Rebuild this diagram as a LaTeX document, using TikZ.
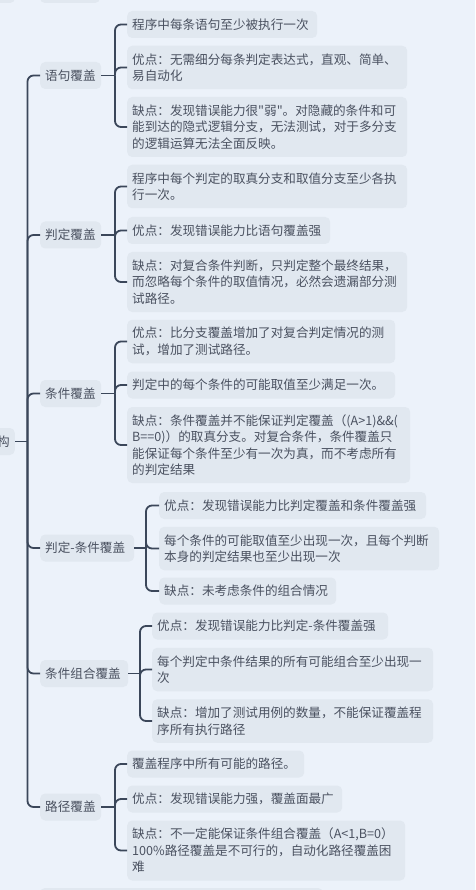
\documentclass[tikz,border=0pt]{standalone}
\usepackage{fontspec}
\setmainfont{Noto Sans CJK SC}
\newfontfamily\plainq{Noto Sans CJK SC}
\definecolor{bgc}{HTML}{ECF2FA}
\definecolor{boxc}{HTML}{E1E8F0}
\definecolor{txtc}{HTML}{4A5160}
\definecolor{linec}{HTML}{3B475A}
\begin{document}
\begin{tikzpicture}[x=1pt,y=-1pt,
  box/.style={fill=boxc, rounded corners=5pt, text=txtc, anchor=west, align=left,
    inner xsep=5pt, inner ysep=0pt, font=\fontsize{12.6}{16.5}\selectfont},
  l1/.style={box, minimum height=27pt},
  l2/.style={box, minimum height=43.5pt},
  l3/.style={box, minimum height=60pt},
  l4/.style={box, minimum height=76pt},
  pbox/.style={fill=boxc, rounded corners=5pt, inner sep=0pt, minimum height=30pt},
  conn/.style={draw=linec, line width=1.8pt, rounded corners=6pt}]
\useasboundingbox (0,0) rectangle (475,890);
\clip (0,0) rectangle (475,890);
\fill[bgc] (0,0) rectangle (475,890);

% partial boxes at the edges
\node[pbox, minimum width=30pt] (topa) at (0,-12) {};
\node[pbox, minimum width=60pt] (topb) at (70,-12) {};
\node[pbox, minimum width=283pt] (bota) at (181.5,903) {};

% root
\node[l1, anchor=east] (root) at (15,441.5) {构};
\coordinate (tr) at (27.5,441.5);

% group 1
\node[l1, text width=51pt] (p1) at (40,75.5) {语句覆盖};
\coordinate (j1) at (115,75.5);
\node[l1, text width=180pt] (a1) at (127,24.5) {程序中每条语句至少被执行一次};
\node[l2, text width=270pt] (a2) at (127,67.5) {优点：无需细分每条判定表达式，直观、简单、\\易自动化};
\node[l3, text width=270pt] (a3) at (127,127) {缺点：发现错误能力很{\plainq "}弱{\plainq "}。对隐藏的条件和可\\能到达的隐式逻辑分支，无法测试，对于多分支\\的逻辑运算无法全面反映。};

% group 2
\node[l1, text width=51pt] (p2) at (40,235) {判定覆盖};
\coordinate (j2) at (115,235);
\node[l2, text width=270pt] (b1) at (127,186.5) {程序中每个判定的取真分支和取值分支至少各执\\行一次。};
\node[l1, text width=193pt] (b2) at (127,230.5) {优点：发现错误能力比语句覆盖强};
\node[l3, text width=270pt] (b3) at (127,282) {缺点：对复合条件判断，只判定整个最终结果，\\而忽略每个条件的取值情况，必然会遗漏部分测\\试路径。};

% group 3
\node[l1, text width=51pt] (p3) at (40,393.5) {条件覆盖};
\coordinate (j3) at (115,393.5);
\node[l2, text width=258pt] (c1) at (127,341.5) {优点：比分支覆盖增加了对复合判定情况的测\\试，增加了测试路径。};
\node[l1, text width=258pt] (c2) at (127,385) {判定中的每个条件的可能取值至少满足一次。};
\node[l4, text width=273pt] (c3) at (127,445) {缺点：条件覆盖并不能保证判定覆盖（(A>1)\&\&(\\B==0)）的取真分支。对复合条件，条件覆盖只\\能保证每个条件至少有一次为真，而不考虑所有\\的判定结果};

% group 4
\node[l1, text width=84pt] (p4) at (40,548) {判定-条件覆盖};
\coordinate (j4) at (146,548);
\node[l1, text width=257pt] (d1) at (159,505.5) {优点：发现错误能力比判定覆盖和条件覆盖强};
\node[l2, text width=270pt] (d2) at (159,548.5) {每个条件的可能取值至少出现一次，且每个判断\\本身的判定结果也至少出现一次};
\node[l1, text width=167pt] (d3) at (159,591) {缺点：未考虑条件的组合情况};

% group 5
\node[l1, text width=78pt] (p5) at (40,673.5) {条件组合覆盖};
\coordinate (j5) at (140,673.5);
\node[l1, text width=226pt] (e1) at (152,626) {优点：发现错误能力比判定-条件覆盖强};
\node[l2, text width=271pt] (e2) at (152,669.5) {每个判定中条件结果的所有可能组合至少出现一\\次};
\node[l2, text width=271pt] (e3) at (152,721) {缺点：增加了测试用例的数量，不能保证覆盖程\\序所有执行路径};

% group 6
\node[l1, text width=51pt] (p6) at (40,807) {路径覆盖};
\coordinate (j6) at (115,807);
\node[l1, text width=167pt] (f1) at (127,764) {覆盖程序中所有可能的路径。};
\node[l1, text width=205pt] (f2) at (127,799) {优点：发现错误能力强，覆盖面最广};
\node[l3, text width=268pt] (f3) at (127,850.5) {缺点：不一定能保证条件组合覆盖（A<1,B=0）\\100\%路径覆盖是不可行的，自动化路径覆盖困\\难};

% trunk
\draw[conn] (root.east) -- (tr);
\foreach \p in {p1,p2,p3,p4,p5,p6} \draw[conn] (tr) |- (\p.west);

% brackets
\foreach \p/\j/\a/\b/\c in {p1/j1/a1/a2/a3, p2/j2/b1/b2/b3, p3/j3/c1/c2/c3,
                            p4/j4/d1/d2/d3, p5/j5/e1/e2/e3, p6/j6/f1/f2/f3} {
  \draw[conn] (\p.east) -- (\j);
  \draw[conn] (\j) |- (\a.west);
  \draw[conn] (\j) |- (\b.west);
  \draw[conn] (\j) |- (\c.west);
}
\end{tikzpicture}
\end{document}
